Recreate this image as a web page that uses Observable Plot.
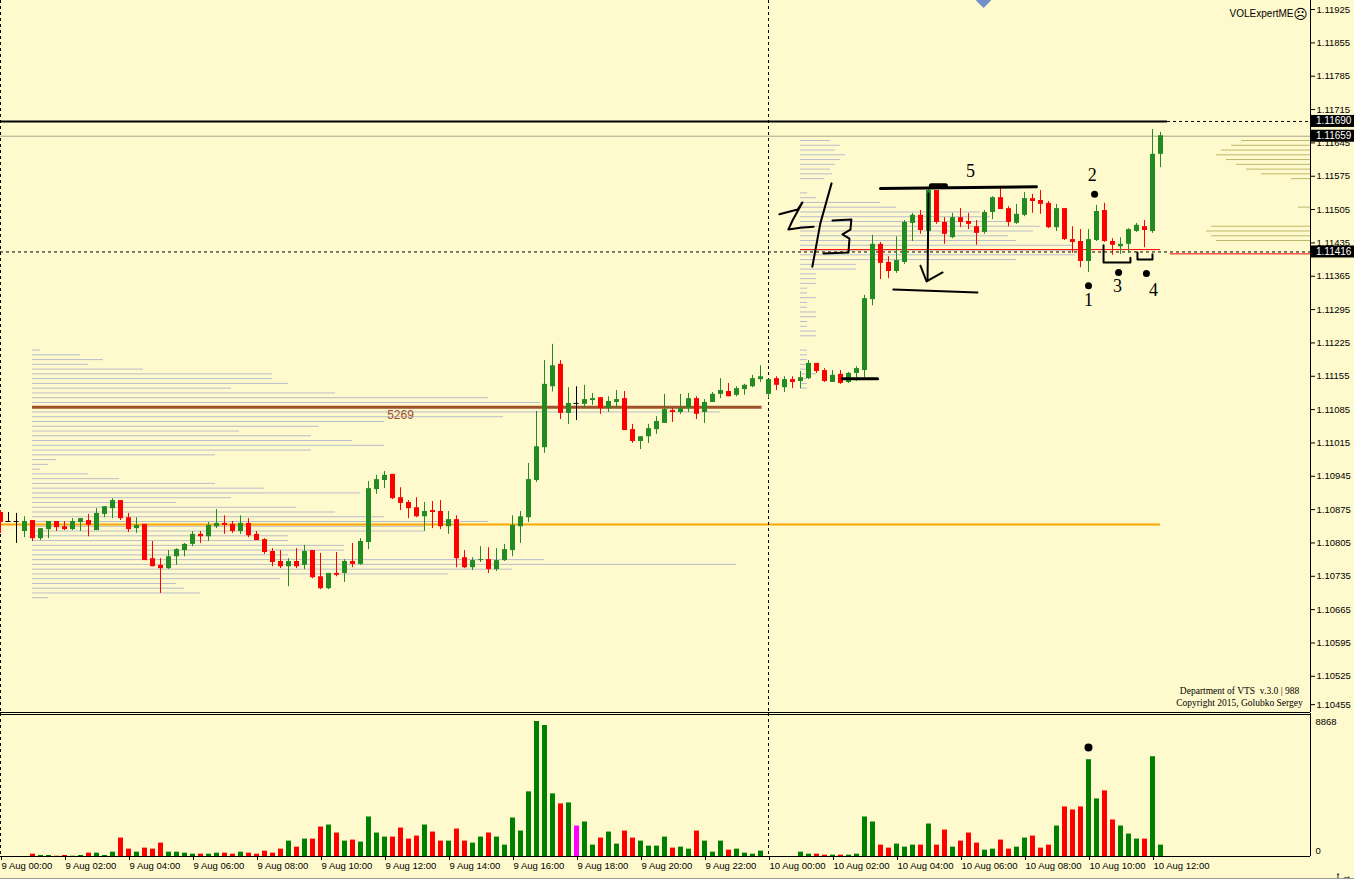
<!DOCTYPE html>
<html>
<head>
<meta charset="utf-8">
<script src="https://cdn.jsdelivr.net/npm/d3@7"></script>
<script src="https://cdn.jsdelivr.net/npm/@observablehq/plot@0.6"></script>
<style>
  html, body { margin:0; padding:0; background:#fffacd; }
  #chart { width:1354px; height:881px; position:relative; overflow:hidden; background:#fffacd; }
  #chart svg { display:block; overflow:visible; }
  #frame { position:absolute; left:0; top:878px; width:1354px; height:3px; border-top:1px solid #9a9a9a; background:#fff; }
</style>
</head>
<body>
<div id="chart"></div>
<script>
// ---------- DATA: EURUSD M15, 9 Aug 00:00 -> 10 Aug 12:15 (one value per 15-minute bar) ----------
const openP = [1.10869,1.10850,1.10850,1.10829,1.10852,1.10814,1.10833,1.10850,1.10839,1.10833,
1.10848,1.10852,1.10831,1.10865,1.10877,1.10894,1.10858,1.10835,1.10844,1.10772,
1.10758,1.10751,1.10776,1.10789,1.10802,1.10823,1.10818,1.10839,1.10846,1.10844,
1.10829,1.10846,1.10823,1.10812,1.10787,1.10766,1.10755,1.10766,1.10758,1.10789,
1.10734,1.10709,1.10741,1.10741,1.10766,1.10760,1.10806,1.10917,1.10936,1.10949,
1.10900,1.10890,1.10879,1.10860,1.10873,1.10871,1.10839,1.10854,1.10774,1.10753,
1.10768,1.10770,1.10749,1.10768,1.10789,1.10839,1.10858,1.10936,1.11005,1.11133,
1.11180,1.11077,1.11098,1.11096,1.11104,1.11110,1.11087,1.11100,1.11108,1.11043,
1.11018,1.11028,1.11043,1.11056,1.11083,1.11079,1.11087,1.11108,1.11079,1.11100,
1.11117,1.11123,1.11115,1.11127,1.11133,1.11148,1.11117,1.11150,1.11131,1.11148,
1.11144,1.11150,1.11182,1.11167,1.11142,1.11159,1.11142,1.11161,1.11167,1.11316,
1.11432,1.11394,1.11375,1.11394,1.11476,1.11493,1.11459,1.11545,1.11478,1.11446,
1.11488,1.11480,1.11469,1.11457,1.11499,1.11530,1.11507,1.11476,1.11493,1.11528,
1.11524,1.11518,1.11467,1.11507,1.11442,1.11438,1.11396,1.11440,1.11503,1.11438,
1.11427,1.11432,1.11459,1.11469,1.11459,1.11621];
const highP = [1.10873,1.10869,1.10867,1.10860,1.10852,1.10835,1.10850,1.10850,1.10850,1.10856,
1.10856,1.10865,1.10877,1.10881,1.10898,1.10894,1.10867,1.10858,1.10844,1.10808,
1.10772,1.10789,1.10793,1.10804,1.10829,1.10829,1.10848,1.10875,1.10862,1.10850,
1.10862,1.10856,1.10829,1.10814,1.10793,1.10789,1.10772,1.10793,1.10800,1.10789,
1.10783,1.10741,1.10785,1.10770,1.10804,1.10814,1.10934,1.10947,1.10955,1.10949,
1.10921,1.10894,1.10900,1.10890,1.10892,1.10894,1.10871,1.10862,1.10789,1.10774,
1.10797,1.10795,1.10793,1.10802,1.10862,1.10871,1.10972,1.11081,1.11188,1.11222,
1.11188,1.11131,1.11133,1.11136,1.11119,1.11110,1.11112,1.11125,1.11123,1.11054,
1.11028,1.11054,1.11070,1.11117,1.11087,1.11117,1.11119,1.11112,1.11106,1.11121,
1.11150,1.11140,1.11133,1.11138,1.11157,1.11177,1.11148,1.11154,1.11154,1.11154,
1.11165,1.11188,1.11182,1.11171,1.11167,1.11167,1.11163,1.11175,1.11325,1.11451,
1.11436,1.11406,1.11448,1.11482,1.11497,1.11503,1.11549,1.11545,1.11488,1.11497,
1.11507,1.11497,1.11482,1.11503,1.11532,1.11549,1.11511,1.11516,1.11541,1.11537,
1.11545,1.11522,1.11516,1.11507,1.11469,1.11463,1.11463,1.11514,1.11518,1.11444,
1.11446,1.11465,1.11476,1.11482,1.11673,1.11667];
const lowP = [1.10825,1.10850,1.10804,1.10816,1.10808,1.10810,1.10814,1.10829,1.10831,1.10831,
1.10829,1.10818,1.10831,1.10858,1.10856,1.10852,1.10827,1.10825,1.10768,1.10755,
1.10699,1.10749,1.10758,1.10776,1.10797,1.10804,1.10808,1.10835,1.10823,1.10825,
1.10823,1.10816,1.10810,1.10781,1.10755,1.10751,1.10713,1.10751,1.10749,1.10730,
1.10707,1.10707,1.10734,1.10722,1.10753,1.10758,1.10791,1.10907,1.10919,1.10896,
1.10873,1.10856,1.10858,1.10829,1.10835,1.10833,1.10823,1.10753,1.10751,1.10747,
1.10764,1.10741,1.10745,1.10766,1.10776,1.10804,1.10848,1.10932,1.10993,1.11122,
1.11064,1.11054,1.11062,1.11087,1.11094,1.11075,1.11079,1.11087,1.11041,1.11014,
1.11001,1.11014,1.11033,1.11056,1.11058,1.11075,1.11079,1.11064,1.11056,1.11100,
1.11108,1.11112,1.11112,1.11115,1.11131,1.11142,1.11108,1.11125,1.11121,1.11129,
1.11129,1.11148,1.11161,1.11142,1.11142,1.11138,1.11140,1.11144,1.11152,1.11303,
1.11358,1.11360,1.11371,1.11390,1.11438,1.11453,1.11459,1.11474,1.11432,1.11444,
1.11467,1.11463,1.11430,1.11453,1.11484,1.11505,1.11469,1.11474,1.11490,1.11497,
1.11495,1.11465,1.11459,1.11440,1.11413,1.11383,1.11373,1.11438,1.11436,1.11409,
1.11411,1.11413,1.11457,1.11425,1.11455,1.11593];
const closeP = [1.10848,1.10850,1.10850,1.10850,1.10814,1.10835,1.10850,1.10837,1.10833,1.10850,
1.10856,1.10842,1.10867,1.10881,1.10894,1.10856,1.10833,1.10842,1.10768,1.10755,
1.10751,1.10776,1.10791,1.10802,1.10823,1.10818,1.10842,1.10846,1.10842,1.10829,
1.10846,1.10820,1.10810,1.10785,1.10764,1.10755,1.10766,1.10755,1.10787,1.10732,
1.10709,1.10741,1.10737,1.10766,1.10760,1.10808,1.10919,1.10938,1.10947,1.10898,
1.10888,1.10877,1.10860,1.10871,1.10869,1.10839,1.10854,1.10772,1.10753,1.10768,
1.10770,1.10749,1.10768,1.10791,1.10842,1.10860,1.10938,1.11007,1.11138,1.11177,
1.11077,1.11098,1.11098,1.11106,1.11108,1.11087,1.11102,1.11106,1.11041,1.11018,
1.11028,1.11045,1.11060,1.11085,1.11079,1.11087,1.11108,1.11075,1.11100,1.11117,
1.11125,1.11112,1.11129,1.11136,1.11150,1.11154,1.11148,1.11136,1.11148,1.11142,
1.11152,1.11182,1.11165,1.11144,1.11157,1.11140,1.11161,1.11171,1.11318,1.11432,
1.11392,1.11375,1.11398,1.11478,1.11493,1.11461,1.11545,1.11478,1.11453,1.11488,
1.11478,1.11474,1.11455,1.11499,1.11530,1.11505,1.11478,1.11495,1.11528,1.11522,
1.11516,1.11467,1.11507,1.11442,1.11436,1.11396,1.11442,1.11501,1.11438,1.11430,
1.11432,1.11463,1.11472,1.11461,1.11621,1.11660];
const volume = [0,0,0,0,154,66,66,20,66,20,
66,220,220,66,286,1210,484,286,550,484,
880,286,286,220,154,154,154,220,220,154,
286,220,154,352,220,484,1012,616,1144,1144,
1936,2068,1540,1012,1078,946,2596,1540,1276,1276,
1870,1144,1342,2068,1606,1012,1012,1804,1012,880,
1276,1540,1276,748,2530,1672,4246,8868,8602,4114,
3454,3520,2002,2266,748,1210,1606,814,1672,1210,
1012,682,682,1276,550,616,484,1672,1012,286,
1012,418,484,220,154,352,0,0,0,0,
286,154,154,88,88,88,88,154,2596,2266,
748,550,814,616,748,748,2134,748,1738,616,
1012,1540,880,418,484,1078,484,616,1210,1342,
550,748,2002,3256,3058,3256,6358,3784,4312,2398,
2002,1474,1144,1144,6556,748];

// volume profile of 9 Aug session (price level -> relative volume)
const profile1Price = [1.11210,1.11200,1.11190,1.11180,1.11170,1.11160,1.11150,1.11140,1.11130,1.11120,
1.11110,1.11100,1.11090,1.11080,1.11070,1.11060,1.11050,1.11040,1.11030,1.11020,
1.11010,1.11000,1.10990,1.10980,1.10970,1.10960,1.10950,1.10940,1.10930,1.10920,
1.10910,1.10900,1.10890,1.10880,1.10870,1.10860,1.10850,1.10840,1.10830,1.10820,
1.10810,1.10800,1.10790,1.10780,1.10770,1.10760,1.10750,1.10740,1.10730,1.10720,
1.10710,1.10700,1.10690];
const profile1Vol = [8,48,71,56,111,240,240,256,199,303,456,508,690,688,471,352,287,207,279,320,
352,279,183,24,16,8,56,87,183,232,328,199,144,264,303,352,456,392,392,256,
256,312,312,256,512,704,480,416,248,144,152,168,16];
// volume profile of 10 Aug session
const profile2Price = [1.11650,1.11640,1.11630,1.11620,1.11610,1.11600,1.11590,1.11580,1.11570,1.11540,
1.11530,1.11520,1.11510,1.11500,1.11490,1.11480,1.11470,1.11460,1.11450,1.11440,
1.11430,1.11420,1.11410,1.11400,1.11390,1.11380,1.11370,1.11360,1.11350,1.11340,
1.11330,1.11320,1.11310,1.11300,1.11290,1.11280,1.11270,1.11260,1.11250,1.11240,
1.11210,1.11200,1.11190,1.11180,1.11170,1.11160,1.11150,1.11140,1.11130];
const profile2Vol = [30,40,35,45,40,35,30,32,24,7,16,80,96,180,190,210,240,233,208,216,
272,278,275,216,56,56,16,16,16,7,7,16,7,7,16,16,7,7,16,16,
7,7,7,7,7,16,7,7,7];
// right-edge (olive) profile
const profile3Price = [1.11650,1.11640,1.11630,1.11620,1.11610,1.11600,1.11590,1.11580,1.11570,1.11510,
1.11470,1.11460,1.11450,1.11440];
const profile3Vol = [69,79,89,94,84,74,64,49,19,12,99,104,99,94];

const pocPrice = 1.11090, pocLabel = "5269";
const yTicks = [1.11925,1.11855,1.11785,1.11715,1.11645,1.11575,1.11505,1.11435,1.11365,1.11295,
1.11225,1.11155,1.11085,1.11015,1.10945,1.10875,1.10805,1.10735,1.10665,1.10595,1.10525];
const yTickLast = 1.10455;
const priceTags = [1.11690, 1.11659, 1.11416];
const xTickHours = [0,2,4,6,8,10,12,14,16,18,20,22,24,26,28,30,32,34,36];
const xTickLabels = ["9 Aug 00:00","9 Aug 02:00","9 Aug 04:00","9 Aug 06:00","9 Aug 08:00","9 Aug 10:00",
"9 Aug 12:00","9 Aug 14:00","9 Aug 16:00","9 Aug 18:00","9 Aug 20:00","9 Aug 22:00","10 Aug 00:00",
"10 Aug 02:00","10 Aug 04:00","10 Aug 06:00","10 Aug 08:00","10 Aug 10:00","10 Aug 12:00"];
const volMax = 8868;

// hand-drawn annotations (time in hours from 9 Aug 00:00, price)
const strokesThin = [
  {id:"two", pts:[[24.34,1.11495],[24.91,1.11505],[25.06,1.11520],[24.97,1.11509],[24.75,1.11482],[24.62,1.11463],[25.0,1.11467],[25.41,1.11469]]},
  {id:"slash", pts:[[25.97,1.11560],[25.62,1.11476],[25.37,1.11385]]},
  {id:"three", pts:[[26.0,1.11482],[26.59,1.11484],[26.56,1.11463],[26.31,1.11453],[26.53,1.11444],[26.5,1.11415],[25.72,1.11413]]},
  {id:"arrow", pts:[[29.0,1.11539],[28.97,1.11356]]},
  {id:"head", pts:[[28.75,1.11387],[28.94,1.11354],[29.44,1.11373]]},
  {id:"low", pts:[[27.9,1.11337],[30.53,1.11331]]},
  {id:"br1", pts:[[34.47,1.11430],[34.47,1.11394],[35.31,1.11394],[35.31,1.11404]]},
  {id:"br2", pts:[[35.53,1.11415],[35.53,1.11400],[36.0,1.11400],[36.0,1.11411]]}
];
const strokesThick = [
  {id:"top", pts:[[27.5,1.11549],[32.375,1.11553]]},
  {id:"base", pts:[[26.31,1.11150],[27.41,1.11150]]}
];
const blob = [{id:"blob", pts:[[29.09,1.11555],[29.53,1.11555]]}];
const dots = [[34.19,1.11537],[34.94,1.11373],[35.81,1.11371],[34.0,1.11345]];
const numbers = [{t:30.31,p:1.11585,s:"5"},{t:34.12,p:1.11577,s:"2"},{t:34.91,p:1.11343,s:"3"},{t:36.03,p:1.11335,s:"4"},{t:34.0,p:1.11314,s:"1"}];
const volDot = {t:34.0, v:7160};

// ---------- build ----------
const up = "#228b22", down = "#ff0000";
const candles = openP.map((o,i) => ({t: i*0.25, o, h: highP[i], l: lowP[i], c: closeP[i], v: volume[i]}));
const cColor = d => d.c > d.o ? up : d.c < d.o ? down : "#000000";
const vColor = d => d.c > d.o ? "#008000" : d.c < d.o ? "#ff0000" : "#ff00ff";
const flat = arr => arr.flatMap(s => s.pts.map(([t,p]) => ({id:s.id, t, p})));

const xMax = 40.9375;          // right edge of the price area (hours)
const yDom = [1.10449, 1.11944];
const FONT = "Liberation Sans, Arial, sans-serif";
const SERIF = "Liberation Serif, Times New Roman, serif";
const prof1Start = 1, prof2Start = 25, pxPerHour = 32;

const p1 = profile1Price.map((p,i)=>({p, v:profile1Vol[i]}));
const p2 = profile2Price.map((p,i)=>({p, v:profile2Vol[i]}));
const p3 = profile3Price.map((p,i)=>({p, v:profile3Vol[i]}));

const main = Plot.plot({
  width: 1354, height: 713,
  marginLeft: 0, marginRight: 44, marginTop: 0, marginBottom: 1,
  x: {domain: [0, xMax], axis: null},
  y: {domain: yDom, axis: null},
  style: {background: "transparent", fontFamily: FONT, fontSize: "9.5px", color: "#000", overflow: "visible"},
  marks: [
    // profiles
    Plot.ruleY(p1, {y: "p", x1: prof1Start, x2: d => prof1Start + d.v/pxPerHour, stroke: "#b9bccb", strokeWidth: 1}),
    Plot.ruleY(p2, {y: "p", x1: prof2Start, x2: d => prof2Start + d.v/pxPerHour, stroke: "#b9bccb", strokeWidth: 1}),
    Plot.ruleY(p3, {y: "p", x1: d => xMax - d.v/pxPerHour, x2: xMax, stroke: "#bdb76b", strokeWidth: 1}),
    // levels
    Plot.ruleY([1.10844], {x1: 0, x2: 36.25, stroke: "#ffa500", strokeWidth: 2}),
    Plot.ruleY([pocPrice], {x1: prof1Start, x2: 23.8, stroke: "#a0522d", strokeWidth: 3}),
    Plot.text([{t: 12.5, p: pocPrice, s: pocLabel}], {x: "t", y: "p", text: "s", dy: 8, fill: "#a0522d", fontSize: 12, fontFamily: FONT}),
    Plot.ruleY([1.11659], {x1: 0, x2: xMax, stroke: "#a9a68c", strokeWidth: 1}),
    Plot.ruleY([1.11416], {x1: 0, x2: xMax, stroke: "#000", strokeDasharray: "3,3"}),
    Plot.ruleY([1.11421], {x1: 25, x2: 36.25, stroke: "#ff0000"}),
    Plot.ruleY([1.11412], {x1: 36.56, x2: xMax, stroke: "#ff0000"}),
    Plot.ruleX([0, 24], {stroke: "#000", strokeDasharray: "3,3"}),
    // candles
    Plot.ruleX(candles, {x: "t", y1: "l", y2: "h", stroke: cColor, strokeWidth: 1}),
    Plot.ruleX(candles.filter(d => d.o !== d.c), {x: "t", y1: "o", y2: "c", stroke: cColor, strokeWidth: 5}),
    Plot.ruleY(candles.filter(d => d.o === d.c), {y: "o", x1: d => d.t - 0.08, x2: d => d.t + 0.08, stroke: "#000"}),
    // black level line
    Plot.ruleY([1.11690], {x1: 0, x2: 36.47, stroke: "#000", strokeWidth: 2}),
    Plot.ruleY([1.11690], {x1: 36.47, x2: xMax, stroke: "#000", strokeDasharray: "3,3"}),
    // annotations
    Plot.line(flat(strokesThin), {x: "t", y: "p", z: "id", stroke: "#000", strokeWidth: 2, curve: "linear"}),
    Plot.line(flat(strokesThick), {x: "t", y: "p", z: "id", stroke: "#000", strokeWidth: 3}),
    Plot.line(flat(blob), {x: "t", y: "p", z: "id", stroke: "#000", strokeWidth: 5}),
    Plot.dot(dots, {x: d => d[0], y: d => d[1], r: 3.5, fill: "#000", stroke: null}),
    Plot.text(numbers, {x: "t", y: "p", text: "s", fontFamily: SERIF, fontSize: 18, fill: "#000"}),
    Plot.dot([{t: 30.72, p: yDom[1]}], {x: "t", y: "p", symbol: "square", rotate: 45, r: 6, fill: "#7391c8", stroke: null}),
    // frame + axis
    Plot.ruleX([xMax], {stroke: "#000"}),
    Plot.ruleY([yDom[0]], {x1: 0, x2: xMax, stroke: "#000"}),
    Plot.axisY(yTicks, {anchor: "right", tickSize: 4, tickPadding: 2, tickFormat: d => d.toFixed(5), fontSize: 9.5}),
    Plot.axisY([yTickLast], {anchor: "right", tickSize: 4, tickPadding: 2, tickFormat: d => d.toFixed(5), fontSize: 9.5, dy: -5}),
    Plot.text(["VOLExpertME"], {frameAnchor: "top-right", dx: -17, dy: 9, textAnchor: "end", fontSize: 10, fontFamily: FONT}),
    Plot.text(["\u2639"], {frameAnchor: "top-right", dx: -10, dy: 9, textAnchor: "middle", fontSize: 14, fontFamily: "DejaVu Sans"}),
    Plot.text(["Department of VTS  v.3.0 | 988"], {frameAnchor: "bottom-right", dx: -71, dy: -19, textAnchor: "middle", fontSize: 9.5, fontFamily: SERIF}),
    Plot.text(["Copyright 2015, Golubko Sergey"], {frameAnchor: "bottom-right", dx: -71, dy: -7, textAnchor: "middle", fontSize: 9.5, fontFamily: SERIF})
  ]
});

// price tags on the axis (drawn on top of the tick labels)
{
  const ys = main.scale("y"), xs = main.scale("x");
  const svg = d3.select(main);
  const x0 = xs.apply(xMax);
  const g = svg.append("g").attr("text-anchor", "start");
  priceTags.forEach(p => {
    const y = ys.apply(p);
    g.append("rect").attr("x", x0 + 1).attr("y", y - 6).attr("width", 44).attr("height", 12).attr("fill", "#000");
    g.append("text").attr("x", x0 + 6).attr("y", y).attr("dy", "0.35em").attr("text-anchor", "start")
      .attr("fill", "#fff").attr("font-size", "10px").attr("font-family", FONT).text(p.toFixed(5));
  });
}

const vol = Plot.plot({
  width: 1354, height: 168,
  marginLeft: 0, marginRight: 44, marginTop: 8, marginBottom: 25,
  x: {domain: [0, xMax], axis: null},
  y: {domain: [0, volMax], axis: null},
  style: {background: "transparent", fontFamily: FONT, fontSize: "9.5px", color: "#000", overflow: "visible"},
  marks: [
    Plot.ruleX([0, 24], {stroke: "#000", strokeDasharray: "3,3", insetTop: -8}),
    Plot.ruleX(candles.filter(d => d.v > 0), {x: "t", y1: 0, y2: "v", stroke: vColor, strokeWidth: 5}),
    Plot.dot([volDot], {x: "t", y: "v", r: 4, fill: "#000", stroke: null}),
    Plot.ruleY([volMax], {x1: 0, x2: xMax, stroke: "#000", dy: -7}),
    Plot.ruleY([0], {x1: 0, x2: xMax, stroke: "#000"}),
    Plot.ruleX([xMax], {stroke: "#000", insetTop: -8}),
    Plot.text([volMax], {x: xMax, y: d => d, text: d => String(d), dx: 5, textAnchor: "start", fontSize: 9.5}),
    Plot.text([0], {x: xMax, y: d => d, text: d => String(d), dx: 5, dy: -6, textAnchor: "start", fontSize: 9.5}),
    Plot.axisX(xTickHours, {anchor: "bottom", tickSize: 4, tickPadding: 2, textAnchor: "start", dx: 1,
      tickFormat: d => xTickLabels[xTickHours.indexOf(d)], fontSize: 9.5})
  ]
});

const chart = document.getElementById("chart");
chart.appendChild(main);
chart.appendChild(vol);
const fr = document.createElement("div"); fr.id = "frame"; chart.appendChild(fr);
</script>
</body>
</html>
